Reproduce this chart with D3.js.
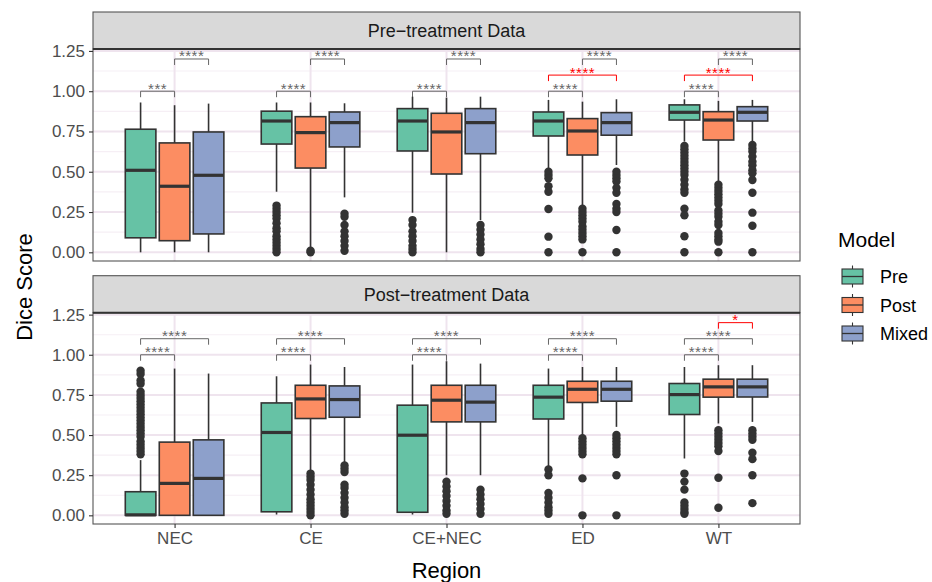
<!DOCTYPE html>
<html>
<head>
<meta charset="utf-8">
<script src="https://cdn.jsdelivr.net/npm/d3@7"></script>
<style>
  body { margin: 0; background: #fff; }
  svg { font-family: "Liberation Sans", Arial, Helvetica, sans-serif; }
</style>
</head>
<body>
<svg id="chart" width="932" height="582"></svg>
<script>
// categories
const regions = ["NEC", "CE", "CE+NEC", "ED", "WT"];
const models = ["Pre", "Post", "Mixed"];
const panelTitles = ["Pre\u2212treatment Data", "Post\u2212treatment Data"];
const yTicks = [0, 0.25, 0.5, 0.75, 1.0, 1.25];
const colors = ["#66c2a5", "#fc8d62", "#8da0cb"];

// box stats per region: [whiskerLow, q1, median, q3, whiskerHigh]
const prePanelPre = [[0, 0.09, 0.509, 0.764, 0.93], [0.376, 0.672, 0.815, 0.876, 0.93], [0.246, 0.629, 0.815, 0.892, 0.966], [0.511, 0.722, 0.815, 0.871, 0.946], [0.687, 0.821, 0.869, 0.915, 0.95]];
const prePanelPost = [[0, 0.072, 0.41, 0.679, 0.913], [0.02, 0.523, 0.743, 0.842, 0.93], [0, 0.486, 0.747, 0.863, 0.96], [0.29, 0.604, 0.753, 0.83, 0.935], [0.428, 0.697, 0.821, 0.873, 0.94]];
const prePanelMixed = [[0, 0.114, 0.478, 0.747, 0.923], [0.341, 0.654, 0.805, 0.871, 0.925], [0.2, 0.612, 0.805, 0.892, 0.966], [0.542, 0.727, 0.805, 0.867, 0.95], [0.677, 0.815, 0.869, 0.904, 0.946]];
const postPanelPre = [[0, 0, 0.003, 0.147, 0.344], [0.005, 0.022, 0.516, 0.70, 0.866], [0.005, 0.019, 0.499, 0.686, 0.939], [0.292, 0.60, 0.736, 0.81, 0.914], [0.354, 0.628, 0.752, 0.821, 0.924]];
const postPanelPost = [[0, 0, 0.199, 0.456, 0.914], [0.282, 0.603, 0.725, 0.81, 0.939], [0.25, 0.582, 0.717, 0.81, 0.96], [0.5, 0.703, 0.785, 0.835, 0.924], [0.572, 0.736, 0.80, 0.848, 0.935]];
const postPanelMixed = [[0, 0, 0.23, 0.47, 0.883], [0.327, 0.611, 0.721, 0.806, 0.924], [0.25, 0.582, 0.705, 0.81, 0.945], [0.551, 0.711, 0.785, 0.835, 0.924], [0.582, 0.737, 0.80, 0.848, 0.935]];

// outliers per region
const prePanelPreOut = [[], [0.29, 0.27, 0.25, 0.23, 0.21, 0.18, 0.15, 0.13, 0.10, 0.08, 0.06, 0.04, 0.02, 0.0], [0.2, 0.17, 0.13, 0.10, 0.07, 0.04, 0.02, 0.0], [0.50, 0.48, 0.46, 0.41, 0.376, 0.269, 0.097, 0.0], [0.66, 0.64, 0.62, 0.60, 0.58, 0.56, 0.54, 0.52, 0.50, 0.48, 0.45, 0.42, 0.39, 0.37, 0.27, 0.23, 0.10, 0.0]];
const prePanelPostOut = [[], [0.0, 0.01], [], [0.27, 0.25, 0.23, 0.21, 0.19, 0.16, 0.14, 0.12, 0.10, 0.08, 0.0], [0.42, 0.40, 0.38, 0.36, 0.34, 0.32, 0.30, 0.26, 0.24, 0.22, 0.19, 0.17, 0.12, 0.10, 0.08, 0.066, 0.0]];
const prePanelMixedOut = [[], [0.24, 0.22, 0.17, 0.13, 0.10, 0.07, 0.04, 0.01], [0.17, 0.14, 0.11, 0.08, 0.05, 0.02, 0.0], [0.50, 0.48, 0.46, 0.44, 0.40, 0.37, 0.30, 0.27, 0.25, 0.138, 0.0], [0.666, 0.645, 0.625, 0.594, 0.563, 0.54, 0.51, 0.49, 0.449, 0.37, 0.246, 0.165, 0.0]];
const postPanelPreOut = [[0.90, 0.88, 0.84, 0.82, 0.77, 0.75, 0.73, 0.71, 0.69, 0.67, 0.65, 0.63, 0.61, 0.59, 0.57, 0.55, 0.53, 0.51, 0.49, 0.46, 0.44, 0.42, 0.40, 0.38], [], [], [0.285, 0.25, 0.14, 0.11, 0.08, 0.05, 0.03, 0.01], [0.26, 0.21, 0.16, 0.08, 0.06, 0.04, 0.02, 0.01]];
const postPanelPostOut = [[], [0.26, 0.24, 0.22, 0.19, 0.16, 0.13, 0.10, 0.08, 0.06, 0.04, 0.02, 0.0], [0.21, 0.18, 0.15, 0.12, 0.09, 0.06, 0.03, 0.01], [0.48, 0.46, 0.44, 0.42, 0.40, 0.38, 0.23, 0.0], [0.53, 0.51, 0.49, 0.47, 0.45, 0.43, 0.40, 0.234, 0.047]];
const postPanelMixedOut = [[], [0.31, 0.29, 0.27, 0.19, 0.17, 0.14, 0.11, 0.08, 0.05, 0.03, 0.01], [0.16, 0.13, 0.10, 0.07, 0.04, 0.01], [0.50, 0.48, 0.46, 0.44, 0.42, 0.40, 0.38, 0.25, 0.0], [0.53, 0.51, 0.49, 0.47, 0.39, 0.35, 0.25, 0.076]];

// significance brackets: [region, fromModel, toModel, y, label, highlighted]
const prePanelBrackets = [
  ["NEC", "Pre", "Post", 1.0, "***", false], ["NEC", "Post", "Mixed", 1.2, "****", false],
  ["CE", "Pre", "Post", 1.0, "****", false], ["CE", "Post", "Mixed", 1.2, "****", false],
  ["CE+NEC", "Pre", "Post", 1.0, "****", false], ["CE+NEC", "Post", "Mixed", 1.2, "****", false],
  ["ED", "Pre", "Post", 1.0, "****", false], ["ED", "Pre", "Mixed", 1.1, "****", true], ["ED", "Post", "Mixed", 1.2, "****", false],
  ["WT", "Pre", "Post", 1.0, "****", false], ["WT", "Pre", "Mixed", 1.1, "****", true], ["WT", "Post", "Mixed", 1.2, "****", false]
];
const postPanelBrackets = [
  ["NEC", "Pre", "Post", 1.0, "****", false], ["NEC", "Pre", "Mixed", 1.1, "****", false],
  ["CE", "Pre", "Post", 1.0, "****", false], ["CE", "Pre", "Mixed", 1.1, "****", false],
  ["CE+NEC", "Pre", "Post", 1.0, "****", false], ["CE+NEC", "Pre", "Mixed", 1.1, "****", false],
  ["ED", "Pre", "Post", 1.0, "****", false], ["ED", "Pre", "Mixed", 1.1, "****", false],
  ["WT", "Pre", "Post", 1.0, "****", false], ["WT", "Pre", "Mixed", 1.1, "****", false], ["WT", "Post", "Mixed", 1.2, "*", true]
];

const panels = [
  { title: panelTitles[0], stats: [prePanelPre, prePanelPost, prePanelMixed], outs: [prePanelPreOut, prePanelPostOut, prePanelMixedOut], brackets: prePanelBrackets, top: 49, bottom: 261 },
  { title: panelTitles[1], stats: [postPanelPre, postPanelPost, postPanelMixed], outs: [postPanelPreOut, postPanelPostOut, postPanelMixedOut], brackets: postPanelBrackets, top: 312.7, bottom: 524 }
];

const svg = d3.select("#chart");
const left = 93, right = 800, stripH = 37;
const textCol = "#4d4d4d", lineCol = "#333333", gridCol = "#efe4ee", gridMinor = "#f6eff5";

const x = d3.scalePoint().domain(regions).range([left, right]).padding(0.6);
const dodge = d3.scaleBand().domain(models).range([-0.375 * x.step(), 0.375 * x.step()]);
const boxW = dodge.bandwidth() * 0.9;
const cx = (r, m) => x(r) + dodge(m) + dodge.bandwidth() / 2;

panels.forEach((p, pi) => {
  const y = d3.scaleLinear().domain([-0.054, 1.262]).range([p.bottom, p.top]);
  const g = svg.append("g");

  // grid
  const minor = d3.range(0.125, 1.25, 0.25);
  g.selectAll(".minor").data(minor).enter().append("line")
    .attr("x1", left).attr("x2", right).attr("y1", d => y(d)).attr("y2", d => y(d))
    .attr("stroke", gridMinor).attr("stroke-width", 1.1);
  g.selectAll(".major").data(yTicks).enter().append("line")
    .attr("x1", left).attr("x2", right).attr("y1", d => y(d)).attr("y2", d => y(d))
    .attr("stroke", gridCol).attr("stroke-width", 2);
  g.selectAll(".vgrid").data(regions).enter().append("line")
    .attr("x1", d => x(d)).attr("x2", d => x(d)).attr("y1", p.top).attr("y2", p.bottom)
    .attr("stroke", gridCol).attr("stroke-width", 2);

  // brackets
  p.brackets.forEach(b => {
    const col = b[5] ? "#ff0000" : "#666666";
    const x1 = cx(b[0], b[1]), x2 = cx(b[0], b[2]), yy = y(b[3]);
    g.append("path")
      .attr("d", `M${x1},${yy + 6}V${yy}H${x2}V${yy + 6}`)
      .attr("fill", "none").attr("stroke", col).attr("stroke-width", 1);
    g.append("text").attr("x", (x1 + x2) / 2).attr("y", yy + 2.5)
      .attr("text-anchor", "middle").attr("font-size", 15).attr("fill", col)
      .attr("letter-spacing", 0.5).text(b[4]);
  });

  // boxes
  models.forEach((m, mi) => {
    regions.forEach((r, ri) => {
      const s = p.stats[mi][ri];
      const c = cx(r, m);
      g.append("line").attr("x1", c).attr("x2", c).attr("y1", y(s[0])).attr("y2", y(s[1]))
        .attr("stroke", lineCol).attr("stroke-width", 1.6);
      g.append("line").attr("x1", c).attr("x2", c).attr("y1", y(s[3])).attr("y2", y(s[4]))
        .attr("stroke", lineCol).attr("stroke-width", 1.6);
      g.append("rect").attr("x", c - boxW / 2).attr("width", boxW)
        .attr("y", y(s[3])).attr("height", Math.max(0, y(s[1]) - y(s[3])))
        .attr("fill", colors[mi]).attr("stroke", lineCol).attr("stroke-width", 1.6);
      g.append("line").attr("x1", c - boxW / 2).attr("x2", c + boxW / 2)
        .attr("y1", y(s[2])).attr("y2", y(s[2]))
        .attr("stroke", lineCol).attr("stroke-width", 3.2);
      g.selectAll(null).data(p.outs[mi][ri]).enter().append("circle")
        .attr("cx", c).attr("cy", d => y(d)).attr("r", 4.2).attr("fill", lineCol);
    });
  });

  // panel border
  g.append("rect").attr("x", left).attr("y", p.top).attr("width", right - left).attr("height", p.bottom - p.top)
    .attr("fill", "none").attr("stroke", "#555").attr("stroke-width", 1.1);

  // strip
  g.append("rect").attr("x", left).attr("y", p.top - stripH).attr("width", right - left).attr("height", stripH)
    .attr("fill", "#d9d9d9").attr("stroke", "#555").attr("stroke-width", 1.1);
  g.append("line").attr("x1", left).attr("x2", right).attr("y1", p.top).attr("y2", p.top)
    .attr("stroke", lineCol).attr("stroke-width", 2);
  g.append("text").attr("x", (left + right) / 2).attr("y", p.top - stripH / 2 + 6.5)
    .attr("text-anchor", "middle").attr("font-size", 18).attr("fill", "#1a1a1a").text(p.title);

  // y axis
  const yAxis = d3.axisLeft(y).tickValues(yTicks).tickFormat(d3.format(".2f")).tickSize(4).tickPadding(4);
  const ga = g.append("g").attr("transform", `translate(${left},0)`).call(yAxis);
  ga.select(".domain").remove();
  ga.selectAll("line").attr("stroke", lineCol).attr("stroke-width", 1.1);
  ga.selectAll("text").attr("font-size", 17).attr("fill", textCol).attr("font-family", null);

  if (pi === 1) {
    const xAxis = d3.axisBottom(x).tickSize(4).tickPadding(4);
    const gx = g.append("g").attr("transform", `translate(0,${p.bottom})`).call(xAxis);
    gx.select(".domain").remove();
    gx.selectAll("line").attr("stroke", lineCol).attr("stroke-width", 1.1);
    gx.selectAll("text").attr("font-size", 17).attr("fill", textCol).attr("font-family", null);
  }
});

// axis titles
svg.append("text").attr("transform", "translate(32,287) rotate(-90)")
  .attr("text-anchor", "middle").attr("font-size", 22).attr("fill", "#000").text("Dice Score");
svg.append("text").attr("x", (left + right) / 2).attr("y", 578)
  .attr("text-anchor", "middle").attr("font-size", 22).attr("fill", "#000").text("Region");

// legend
svg.append("text").attr("x", 838).attr("y", 247).attr("font-size", 21).attr("fill", "#000").text("Model");
const leg = svg.append("g").selectAll("g").data(models).enter().append("g")
  .attr("transform", (d, i) => `translate(842,${276.5 + i * 28.5})`);
leg.append("line").attr("x1", 10.5).attr("x2", 10.5).attr("y1", -11).attr("y2", 11)
  .attr("stroke", lineCol).attr("stroke-width", 1.1);
leg.append("rect").attr("x", 0).attr("y", -7.5).attr("width", 21).attr("height", 15)
  .attr("fill", (d, i) => colors[i]).attr("stroke", lineCol).attr("stroke-width", 1.1);
leg.append("line").attr("x1", 0).attr("x2", 21).attr("y1", 0).attr("y2", 0)
  .attr("stroke", lineCol).attr("stroke-width", 1.3);
leg.append("text").attr("x", 38).attr("y", 6.5).attr("font-size", 18).attr("fill", "#000").text(d => d);
</script>
</body>
</html>
